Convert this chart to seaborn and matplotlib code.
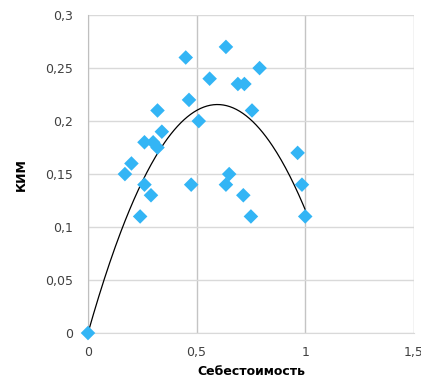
import numpy as np
import pandas as pd
import matplotlib
matplotlib.use("Agg")
import matplotlib.pyplot as plt
import matplotlib.ticker as mticker
import seaborn as sns

# data
sebest = [0, 0.17, 0.20, 0.24, 0.26, 0.26, 0.29, 0.30, 0.32, 0.32, 0.34,
          0.45, 0.465, 0.475, 0.51, 0.56, 0.635, 0.635, 0.65, 0.69, 0.72,
          0.715, 0.75, 0.755, 0.79, 0.965, 0.985, 1.0]
kim = [0, 0.15, 0.16, 0.11, 0.14, 0.18, 0.13, 0.18, 0.175, 0.21, 0.19,
       0.26, 0.22, 0.14, 0.20, 0.24, 0.27, 0.14, 0.15, 0.235, 0.235,
       0.13, 0.11, 0.21, 0.25, 0.17, 0.14, 0.11]

df = pd.DataFrame({"x": sebest, "y": kim})

# polynomial trend (2nd order, through origin) like excel
X = np.column_stack([df["x"], df["x"] ** 2])
coef, *_ = np.linalg.lstsq(X, df["y"], rcond=None)
xs = np.linspace(0, df["x"].max(), 200)
ys = coef[0] * xs + coef[1] * xs ** 2

sns.set_style("white")
fig = plt.figure(figsize=(4.21, 3.78), dpi=100)
ax = fig.add_axes([0.209, 0.119, 0.774, 0.841])

ax.plot(xs, ys, color="black", lw=0.9, zorder=2)
sns.scatterplot(data=df, x="x", y="y", marker="D", s=55, color="#33b5f5",
                edgecolor="none", ax=ax, zorder=3, clip_on=False)

ax.set_xlim(0, 1.5)
ax.set_ylim(0, 0.3)
ax.set_xticks([0, 0.5, 1, 1.5])
ax.set_yticks([0, 0.05, 0.1, 0.15, 0.2, 0.25, 0.3])
fmt = mticker.FuncFormatter(lambda v, p: ("%g" % round(v, 2)).replace(".", ","))
ax.xaxis.set_major_formatter(fmt)
ax.yaxis.set_major_formatter(fmt)

ax.grid(axis="y", color="#d9d9d9", lw=1)
ax.grid(axis="x", color="#c4c4c4", lw=1)
ax.set_axisbelow(True)
for s in ["top", "right"]:
    ax.spines[s].set_visible(False)
ax.spines["left"].set_color("#bfbfbf")
ax.spines["bottom"].set_color("#d9d9d9")
ax.tick_params(axis="both", length=0, labelsize=9, colors="#404040")
ax.tick_params(axis="y", pad=11)
ax.tick_params(axis="x", pad=9)

ax.set_xlabel("Себестоимость", fontsize=9, fontweight="bold", color="black", labelpad=5)
ax.set_ylabel("КИМ", fontsize=9, fontweight="bold", color="black", labelpad=12)

fig.savefig("out.png", dpi=100)
